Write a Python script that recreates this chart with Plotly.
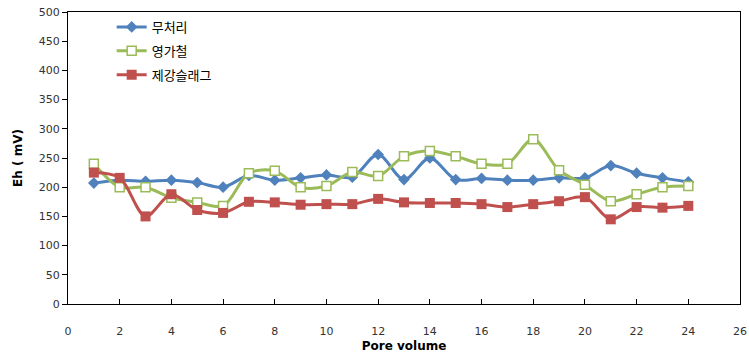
import plotly.graph_objects as go

pore_volume = list(range(1, 25))
untreated = [207, 212, 210, 212, 208, 200, 220, 212, 216, 221, 217, 256, 213, 250, 213, 215, 212, 212, 216, 216, 237, 224, 216, 209]
zero_valent_iron = [240, 200, 200, 182, 174, 168, 224, 228, 200, 202, 226, 219, 253, 262, 253, 240, 240, 282, 229, 204, 176, 188, 200, 202]
steel_slag = [225, 216, 150, 188, 161, 156, 175, 174, 170, 171, 171, 180, 174, 173, 173, 171, 166, 171, 176, 183, 145, 166, 165, 168]
series_names = ["무처리", "영가철", "제강슬래그"]

fig = go.Figure()
fig.add_trace(go.Scatter(
    x=pore_volume, y=untreated, name=series_names[0], mode="lines+markers", legendgroup="a",
    line=dict(color="#4F81BD", width=3, shape="spline", smoothing=0.9),
    marker=dict(symbol="diamond", size=9, color="#4F81BD"),
))
fig.add_trace(go.Scatter(
    x=pore_volume, y=zero_valent_iron, name=series_names[1], mode="lines+markers", legendgroup="b",
    line=dict(color="#9BBB59", width=3, shape="spline", smoothing=0.9),
    marker=dict(symbol="square", size=9, color="white", line=dict(color="#9BBB59", width=1.5)),
))
fig.add_trace(go.Scatter(
    x=pore_volume, y=steel_slag, name=series_names[2], mode="lines+markers", legendgroup="c",
    line=dict(color="#C0504D", width=3, shape="spline", smoothing=0.9),
    marker=dict(symbol="square", size=10, color="#C0504D"),
))

tick_font = dict(family="DejaVu Sans", size=11, color="#333333")
fig.update_layout(
    width=749, height=359,
    margin=dict(l=68, r=9, t=12, b=55),
    paper_bgcolor="white", plot_bgcolor="white",
    showlegend=True,
    legend=dict(
        x=0.065, y=1.0, xanchor="left", yanchor="top",
        font=dict(family="Noto Sans CJK KR", size=13, color="black"),
        bgcolor="rgba(0,0,0,0)", itemwidth=30, tracegroupgap=4,
    ),
    xaxis=dict(
        range=[0, 26], dtick=2, tick0=0, ticks="inside", ticklen=5, tickcolor="black",
        showline=True, linecolor="black", linewidth=1, mirror=True, showgrid=False, zeroline=False,
        tickfont=tick_font, automargin=False, ticklabelstandoff=17,
        title=dict(text="<b>Pore volume</b>", font=dict(family="DejaVu Sans", size=12, color="black"), standoff=4),
    ),
    yaxis=dict(
        range=[0, 500], dtick=50, tick0=0, ticks="outside", ticklen=5, tickcolor="black",
        showline=True, linecolor="black", linewidth=1, mirror=True, showgrid=False, zeroline=False,
        tickfont=tick_font, automargin=False,
        title=dict(text="<b>Eh ( mV)</b>", font=dict(family="DejaVu Sans", size=12, color="black"), standoff=13),
    ),
)

fig.write_html("out.html", config={"displayModeBar": False},
               post_script="document.body.style.margin='0';")
